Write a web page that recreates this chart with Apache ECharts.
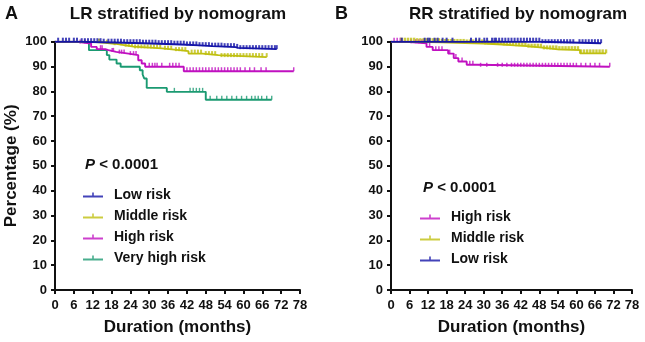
<!DOCTYPE html>
<html>
<head>
<meta charset="utf-8">
<script src="https://cdn.jsdelivr.net/npm/echarts@6/dist/echarts.min.js"></script>
<style>
  html, body { margin: 0; padding: 0; background: #fff; }
  #chart { width: 645px; height: 342px; }
</style>
</head>
<body>
<div id="chart"></div>
<script>
// axis ticks
const xMin = 0, xMax = 78, xStep = 6
const yMin = 0, yMax = 100, yStep = 10

// ---- panel A: LR (step curves: time, survival %) ----
const lrLowT = [0, 8, 15, 22, 28, 33, 38, 42, 46, 50, 54, 57.5, 58.2, 70.6]
const lrLowV = [100, 99.8, 99.6, 99.4, 99.2, 99.0, 98.8, 98.5, 98.2, 98.0, 97.8, 97.5, 97.0, 97.0]
const lrLowCens = [1, 2.5, 3.5, 4.5, 6, 7, 8.5, 9.5, 10.5, 11.5, 12.5, 13.5, 14.5, 15.5, 17, 18, 19, 20, 21, 22, 23, 24, 25, 26, 27, 28, 29, 30, 31, 32, 33, 34, 35, 36, 37, 38, 39, 40, 41, 42, 43, 44, 45, 46, 47, 48, 49, 50, 51, 52, 53, 54, 55, 56, 57, 58, 59, 60, 61, 62, 63, 64, 65, 66, 67, 68, 69, 70, 70.6]

const lrMidT = [0, 12, 16, 19, 22, 25, 34, 38, 42.5, 47, 52, 67.4]
const lrMidV = [100, 99.6, 99.2, 98.6, 98.0, 97.3, 96.8, 96.2, 95.2, 94.6, 93.8, 93.8]
const lrMidCens = [14, 16.5, 19, 21, 22.5, 23.5, 24.5, 25.5, 26.5, 27.5, 28.5, 29.5, 30.5, 31.5, 32.5, 33.5, 35, 36, 37, 38.5, 39.5, 40.5, 41.5, 43.5, 44.5, 45.5, 46.5, 48, 49, 50, 51, 53, 54, 55, 56, 57, 58, 59, 60, 61, 62, 63, 64, 65, 66, 67.4]

const lrHighT = [0, 7, 11.5, 13.3, 16, 17, 19.5, 23.4, 26.5, 27.6, 28.7, 41, 76]
const lrHighV = [100, 99.3, 97.9, 97.0, 96.6, 95.9, 95.2, 94.6, 92.5, 91.2, 89.9, 88.1, 88.1]
const lrHighCens = [8, 9.5, 14.5, 15, 18.2, 18.6, 20.5, 21.2, 22, 24, 25, 25.8, 30, 31, 31.8, 32.5, 34, 36.5, 37.5, 38.5, 39.5, 42, 43, 44, 45, 46, 47, 48, 49, 50, 51, 52, 53, 54, 55, 56, 57, 58, 59, 60.5, 62, 63.5, 65.6, 67.2, 76]

const lrVhighT = [0, 10.8, 16.5, 17.3, 19.6, 20.9, 27, 27.9, 28.4, 29.2, 35.6, 48, 69]
const lrVhighV = [100, 96.6, 94.6, 92.8, 91.2, 89.9, 88.5, 86.8, 85.2, 81.4, 79.8, 76.6, 76.6]
const lrVhighCens = [38, 43, 44, 45, 46, 47, 49.4, 51.5, 53.1, 54.7, 56.3, 57.8, 59.4, 61, 62.6, 63.7, 64.7, 65.8, 67.4, 69]

// ---- panel B: RR ----
const rrHighT = [0, 5, 11.5, 13.5, 18.5, 20.3, 21.8, 24.5, 27.8, 70.8]
const rrHighV = [100, 99.4, 97.9, 96.6, 95.2, 93.4, 92.0, 90.7, 89.9, 89.9]
const rrHighCens = [1, 2, 3, 6.5, 8, 9, 10, 12.5, 14.5, 15.5, 16.5, 19, 21, 23, 25.5, 26.5, 29, 31, 34.5, 36, 37.5, 39, 40, 41, 42, 43, 44, 45, 46, 47, 48, 49, 50, 51, 52, 53, 54, 55, 56, 57, 58, 59, 60, 61.5, 63, 64.5, 66, 67.5, 70.8]

const rrMidT = [0, 8, 16, 24, 30, 36, 40, 44, 49, 54, 61.2, 69.6]
const rrMidV = [100, 99.8, 99.5, 99.3, 98.9, 98.5, 98.2, 97.6, 96.9, 96.6, 95.3, 95.3]
const rrMidCens = [3.4, 4.5, 5.5, 6.5, 7.5, 8.5, 9.5, 10.5, 11.5, 12.5, 13.5, 14.5, 15.5, 16.5, 17.5, 18.5, 19.5, 20.5, 21.5, 22.5, 23.5, 24.5, 25.5, 26.5, 27.5, 28.5, 29.5, 30.5, 31.5, 32.5, 33.5, 34.5, 35.5, 36.5, 37.5, 38.5, 39.5, 40.5, 41.5, 42.5, 43.5, 44.5, 45.5, 46.5, 47.5, 48.5, 49.5, 50.5, 51.5, 52.5, 53.5, 54.5, 55.5, 56.5, 57.5, 58.5, 59.5, 60.5, 61.5, 62.5, 63.5, 64.5, 65.5, 66.5, 67.5, 68.5, 69.6]

const rrLowT = [0, 48.2, 68]
const rrLowV = [100, 99.4, 99.4]
const rrLowCens = [3.5, 10.9, 11.9, 12.5, 14.1, 15.1, 16.7, 18, 19.9, 25.9, 27.5, 28.6, 30.2, 31.1, 32.7, 33.5, 34, 35, 36, 37, 38, 39, 40, 41, 42, 43, 44, 45, 46, 47, 48, 49, 50, 51, 52, 53, 54, 55, 56, 57, 58, 59, 61, 62, 63, 64, 65, 66, 67, 68]

const colLow = '#1414a8'
const colMid = '#bfbf10'
const colHigh = '#c010c0'
const colVhigh = '#1b9a72'

const font = 'Liberation Sans, Arial, sans-serif'

function survAt(T, V, t) {
  let v = V[0]
  for (let i = 0; i < T.length; i++) if (T[i] <= t) v = V[i]
  return v
}

function curve(T, V, cens, name, color, idx, tickW) {
  return [{
    type: 'line', step: 'end', symbol: 'none', xAxisIndex: idx, yAxisIndex: idx,
    lineStyle: { color: color, width: 1.9 }, itemStyle: { color: color },
    data: T.map((t, i) => [t, V[i]]), silent: true
  }, {
    name: name, type: 'scatter', xAxisIndex: idx, yAxisIndex: idx,
    symbol: 'rect', symbolSize: [tickW, 4], symbolOffset: [0, -2],
    itemStyle: { color: color }, silent: true,
    data: cens.map(t => [t, survAt(T, V, t)])
  }]
}

function xAx(idx) {
  return {
    type: 'value', gridIndex: idx, min: xMin, max: xMax, interval: xStep,
    name: 'Duration (months)', nameLocation: 'middle', nameGap: 29,
    nameTextStyle: { fontSize: 17, fontWeight: 'bold', color: '#111', fontFamily: font },
    axisLine: { show: true, lineStyle: { color: '#111', width: 2 } },
    axisTick: { show: true, length: 4, lineStyle: { color: '#111', width: 2 } },
    axisLabel: { margin: 9, fontSize: 13, fontWeight: 'bold', color: '#111', fontFamily: font },
    splitLine: { show: false }
  }
}

function yAx(idx, withName) {
  return {
    type: 'value', gridIndex: idx, min: yMin, max: yMax, interval: yStep,
    name: withName ? 'Percentage (%)' : '', nameLocation: 'middle', nameGap: 35,
    nameTextStyle: { fontSize: 17, fontWeight: 'bold', color: '#111', fontFamily: font },
    axisLine: { show: true, lineStyle: { color: '#111', width: 2 } },
    axisTick: { show: true, length: 4, lineStyle: { color: '#111', width: 2 } },
    axisLabel: { margin: 8, fontSize: 13, fontWeight: 'bold', color: '#111', fontFamily: font },
    splitLine: { show: false }
  }
}

const legendIcon = 'path://M0,3.5 L20,3.5 L20,5.5 L0,5.5 Z M9.2,0.5 L10.8,0.5 L10.8,4 L9.2,4 Z'

function legend(names, left, top) {
  return {
    data: names, orient: 'vertical', left: left, top: top, padding: 0,
    icon: legendIcon, itemWidth: 20, itemHeight: 5, itemGap: 5, selectedMode: false,
    textStyle: { fontSize: 14, fontWeight: 'bold', color: '#111', fontFamily: font, lineHeight: 16, padding: [0, 0, 0, 6] }
  }
}

function label(text, x, y, size, align) {
  return {
    type: 'text', x: x, y: y, silent: true,
    style: { text: text, fontSize: size, fontWeight: 'bold', fontFamily: font, fill: '#111', align: align, verticalAlign: 'middle' }
  }
}

function pText(x, y) {
  return {
    type: 'text', x: x, y: y, silent: true,
    style: {
      text: '{p|P}{t| < 0.0001}', fill: '#111', align: 'left', verticalAlign: 'middle',
      rich: {
        p: { fontSize: 15, fontWeight: 'bold', fontStyle: 'italic', fontFamily: font, fill: '#111' },
        t: { fontSize: 15, fontWeight: 'bold', fontFamily: font, fill: '#111' }
      }
    }
  }
}

const chart = echarts.init(document.getElementById('chart'))
chart.setOption({
  animation: false,
  backgroundColor: '#fff',
  grid: [
    { left: 55, top: 41.7, width: 245, height: 248.3 },
    { left: 391, top: 41.7, width: 241, height: 248.3 }
  ],
  xAxis: [xAx(0), xAx(1)],
  yAxis: [yAx(0, true), yAx(1, false)],
  legend: [
    legend(['Low risk', 'Middle risk', 'High risk', 'Very high risk'], 83, 187),
    legend(['High risk', 'Middle risk', 'Low risk'], 420, 209)
  ],
  graphic: [
    label('A', 5, 14.5, 18, 'left'),
    label('LR stratified by nomogram', 178, 14.5, 17, 'center'),
    label('B', 335, 14.5, 18, 'left'),
    label('RR stratified by nomogram', 518, 14.5, 17, 'center'),
    pText(85, 165),
    pText(423, 188)
  ],
  series: [].concat(
    curve(lrVhighT, lrVhighV, lrVhighCens, 'Very high risk', colVhigh, 0, 1.4),
    curve(lrHighT, lrHighV, lrHighCens, 'High risk', colHigh, 0, 1.5),
    curve(lrMidT, lrMidV, lrMidCens, 'Middle risk', colMid, 0, 2),
    curve(lrLowT, lrLowV, lrLowCens, 'Low risk', colLow, 0, 2),
    curve(rrHighT, rrHighV, rrHighCens, 'High risk', colHigh, 1, 1.5),
    curve(rrMidT, rrMidV, rrMidCens, 'Middle risk', colMid, 1, 2.4),
    curve(rrLowT, rrLowV, rrLowCens, 'Low risk', colLow, 1, 2)
  )
})
</script>
</body>
</html>
